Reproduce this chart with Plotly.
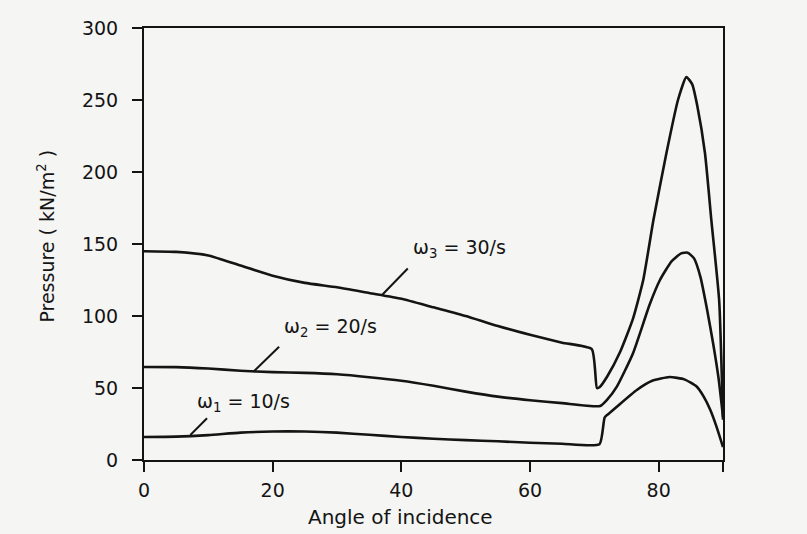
import plotly.graph_objects as go

# Pressure against angle of incidence for three angular velocities
angle_w1 = [0, 5, 10, 15, 20, 25, 30, 35, 40, 45, 50, 55, 60, 65, 70.8, 71.6,
            72.2, 73.5, 76.6, 79, 81.7, 84, 85.9, 87, 88, 89, 90]
pressure_w1 = [16, 16.2, 17.3, 19, 19.8, 19.8, 19, 17.5, 16, 14.8, 13.8, 13, 12,
               11.3, 11, 29.5, 32, 37, 48.6, 55, 57.6, 56, 51, 44, 35, 23, 9]

angle_w2 = [0, 5, 10, 15, 20, 25, 30, 35, 40, 45, 50, 55, 60, 65, 70.9, 72,
            73.5, 76, 78.6, 80.2, 82, 83.5, 84.5, 85.5, 86.5, 87.5, 88.5, 89.3, 90]
pressure_w2 = [64.6, 64.5, 63.5, 62, 61, 60.5, 59.5, 57.5, 55, 51.5, 47.5, 44,
               41.5, 39.5, 37.5, 42, 51, 74, 108, 125, 138, 143.5, 144, 140,
               127, 105, 80, 57, 30]

angle_w3 = [0, 5, 10, 15, 20, 25, 30, 35, 40, 45, 50, 55, 60, 65, 69.6, 70.4,
            70.8, 72, 74, 76, 77.6, 79.2, 81.2, 83, 84.3, 85.2, 86, 87.2, 88.2,
            89.4, 90]
pressure_w3 = [145, 144.5, 142, 135, 128, 123, 120, 116, 112, 106, 100, 93, 87,
               81.5, 77, 50, 50.5, 58, 75, 98, 125, 167, 213, 250, 266, 261,
               246, 213, 166, 111, 28]

series = [
    ("ω<sub>1</sub> = 10/s", angle_w1, pressure_w1),
    ("ω<sub>2</sub> = 20/s", angle_w2, pressure_w2),
    ("ω<sub>3</sub> = 30/s", angle_w3, pressure_w3),
]

# Curve labels: text position and leader line (from curve point to label)
label_pos = [(15.4, 40), (29.0, 92), (49.1, 147)]
leader_x = [[7.2, 9.8], [17.0, 21.0], [37.0, 41.0]]
leader_y = [[17.4, 29.0], [61.3, 78.7], [114.6, 133.0]]

x_ticks = [0, 20, 40, 60, 80, 90]
x_tick_text = ["0", "20", "40", "60", "80", ""]
y_ticks = [0, 50, 100, 150, 200, 250, 300]

INK = "#141414"
FONT = "DejaVu Sans"

fig = go.Figure()
for name, xs, ys in series:
    fig.add_trace(go.Scatter(x=xs, y=ys, mode="lines", name=name,
                             line=dict(color=INK, width=2.6, shape="spline",
                                       smoothing=0.5),
                             showlegend=False, hoverinfo="skip"))

for lx, ly in zip(leader_x, leader_y):
    fig.add_trace(go.Scatter(x=lx, y=ly, mode="lines",
                             line=dict(color=INK, width=2),
                             showlegend=False, hoverinfo="skip"))

for (name, _, _), (tx, ty) in zip(series, label_pos):
    fig.add_annotation(x=tx, y=ty, text=name, showarrow=False,
                       xanchor="center", yanchor="middle",
                       font=dict(family=FONT, size=19, color=INK))

fig.add_annotation(text="Angle of incidence", xref="paper", yref="paper",
                   x=(400 - 143.5) / (723 - 143.5), y=-57 / 432,
                   xanchor="center", yanchor="middle",
                   showarrow=False, font=dict(family=FONT, size=20, color=INK))
fig.add_annotation(text="Pressure ( kN/m<sup>2</sup> )", xref="paper", yref="paper",
                   x=-(143.5 - 45) / (723 - 143.5), y=(460 - 236) / 432,
                   xanchor="center", yanchor="middle",
                   textangle=-90, showarrow=False,
                   font=dict(family=FONT, size=19, color=INK))

axis_common = dict(showgrid=False, zeroline=False, showline=True, linecolor=INK,
                   linewidth=2, mirror=True, ticks="outside", ticklen=10,
                   tickwidth=2, tickcolor=INK,
                   tickfont=dict(family=FONT, size=19, color=INK))

fig.update_xaxes(range=[0, 90], tickvals=x_ticks, ticktext=x_tick_text,
                 ticklabelstandoff=2, **axis_common)
fig.update_yaxes(range=[0, 300], tickvals=y_ticks, ticklabelstandoff=10,
                 **axis_common)

fig.update_layout(width=807, height=534,
                  margin=dict(l=143.5, r=84, t=28, b=74),
                  paper_bgcolor="#f5f5f3", plot_bgcolor="#f5f5f3")

fig.write_html("out.html")
